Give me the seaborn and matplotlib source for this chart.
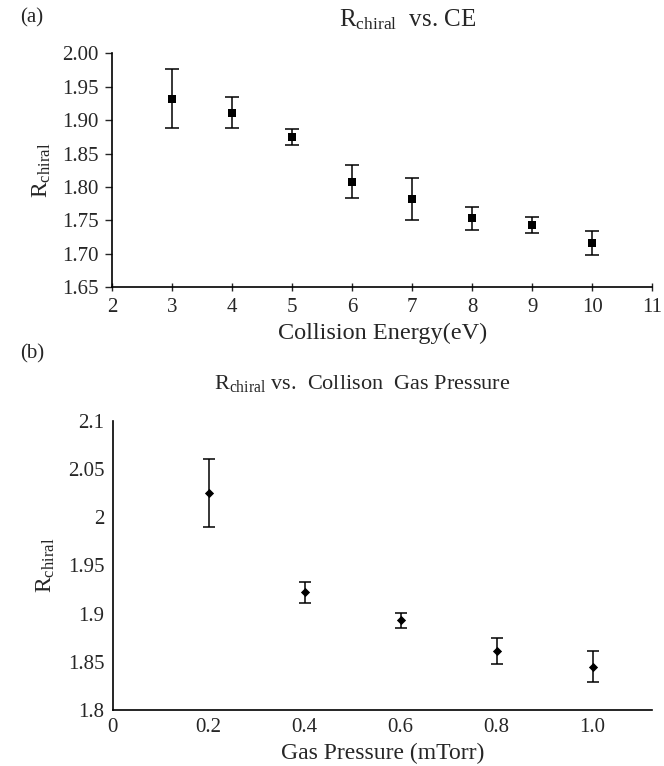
import seaborn as sns
import pandas as pd
import matplotlib
matplotlib.use("Agg")
import matplotlib.pyplot as plt
from matplotlib.ticker import FuncFormatter

# (a) R_chiral vs collision energy
energy = [3, 4, 5, 6, 7, 8, 9, 10]
r_energy = [1.932, 1.911, 1.875, 1.808, 1.782, 1.753, 1.743, 1.716]
err_energy = [0.044, 0.023, 0.012, 0.025, 0.031, 0.017, 0.012, 0.018]

# (b) R_chiral vs collision gas pressure
pressure = [0.2, 0.4, 0.6, 0.8, 1.0]
r_pressure = [2.025, 1.922, 1.893, 1.861, 1.845]
err_pressure = [0.035, 0.011, 0.0075, 0.0135, 0.016]
pressure_ticks = [0, 0.2, 0.4, 0.6, 0.8, 1.0]
pressure_labels = ["0", "0.2", "0.4", "0.6", "0.8", "1.0"]

dfa = pd.DataFrame({"ce": energy, "r": r_energy, "err": err_energy})
dfb = pd.DataFrame({"p": pressure, "r": r_pressure, "err": err_pressure})

sns.set_style("ticks")
plt.rcParams["font.family"] = ["Liberation Serif", "DejaVu Serif"]
plt.rcParams["mathtext.fontset"] = "custom"
plt.rcParams["mathtext.rm"] = "Liberation Serif"
plt.rcParams["mathtext.it"] = "Liberation Serif:italic"
plt.rcParams["axes.edgecolor"] = "black"
plt.rcParams["axes.linewidth"] = 1.2

fig = plt.figure(figsize=(6.64, 7.66), dpi=100)

# top panel
ax = fig.add_axes([0.169, 0.625, 0.813, 0.3055])
ax.errorbar(dfa["ce"], dfa["r"], yerr=dfa["err"], fmt="none", ecolor="black",
            elinewidth=1.1, capsize=5, capthick=1.1)
sns.scatterplot(x="ce", y="r", data=dfa, marker="s", s=38, color="black",
                edgecolor="black", linewidth=0, ax=ax, zorder=3)
ax.set_xlim(2, 11)
ax.set_ylim(1.65, 2.00)
ax.set_xticks(range(2, 12))
ax.set_yticks([1.65, 1.70, 1.75, 1.80, 1.85, 1.90, 1.95, 2.00])
ax.yaxis.set_major_formatter(FuncFormatter(lambda v, p: f"{v:.2f}"))
ax.tick_params(axis="y", direction="out", length=5, width=1, labelsize=15, pad=5)
ax.tick_params(axis="x", direction="inout", length=6, width=1, labelsize=15, pad=5)
ax.set_xlabel("Collision Energy(eV)", fontsize=17.5, labelpad=4)
ax.set_ylabel(r"R$_{\mathrm{chiral}}$", fontsize=17, labelpad=6)
sns.despine(ax=ax)
fig.text(0.614, 0.974, r"R$_{\mathrm{chiral}}$  vs. CE", fontsize=18, ha="center", va="center")
fig.text(0.03, 0.977, "(a)", fontsize=15, ha="left", va="center")

# bottom panel
ax = fig.add_axes([0.1697, 0.0731, 0.8123, 0.3777])
ax.errorbar(dfb["p"], dfb["r"], yerr=dfb["err"], fmt="none", ecolor="black",
            elinewidth=1.1, capsize=4.5, capthick=1.1)
sns.scatterplot(x="p", y="r", data=dfb, marker="D", s=22, color="black",
                edgecolor="black", linewidth=0, ax=ax, zorder=3)
ax.set_xlim(0, 1.124)
ax.set_ylim(1.8, 2.1)
ax.set_xticks(pressure_ticks)
ax.set_xticklabels(pressure_labels)
ax.set_yticks([1.8, 1.85, 1.9, 1.95, 2.0, 2.05, 2.1])
ax.yaxis.set_major_formatter(FuncFormatter(lambda v, p: f"{v:g}"))
ax.tick_params(axis="y", length=0, labelsize=15, pad=6)
ax.tick_params(axis="x", length=0, labelsize=15, pad=6)
ax.set_xlabel("Gas Pressure (mTorr)", fontsize=17, labelpad=4)
ax.set_ylabel(r"R$_{\mathrm{chiral}}$", fontsize=17, labelpad=8)
sns.despine(ax=ax)
fig.text(0.545, 0.5, r"R$_{\mathrm{chiral}}$ vs.  Collison  Gas Pressure", fontsize=16,
         ha="center", va="center")
fig.text(0.03, 0.538, "(b)", fontsize=15, ha="left", va="center")

fig.savefig("out.png", dpi=100)
